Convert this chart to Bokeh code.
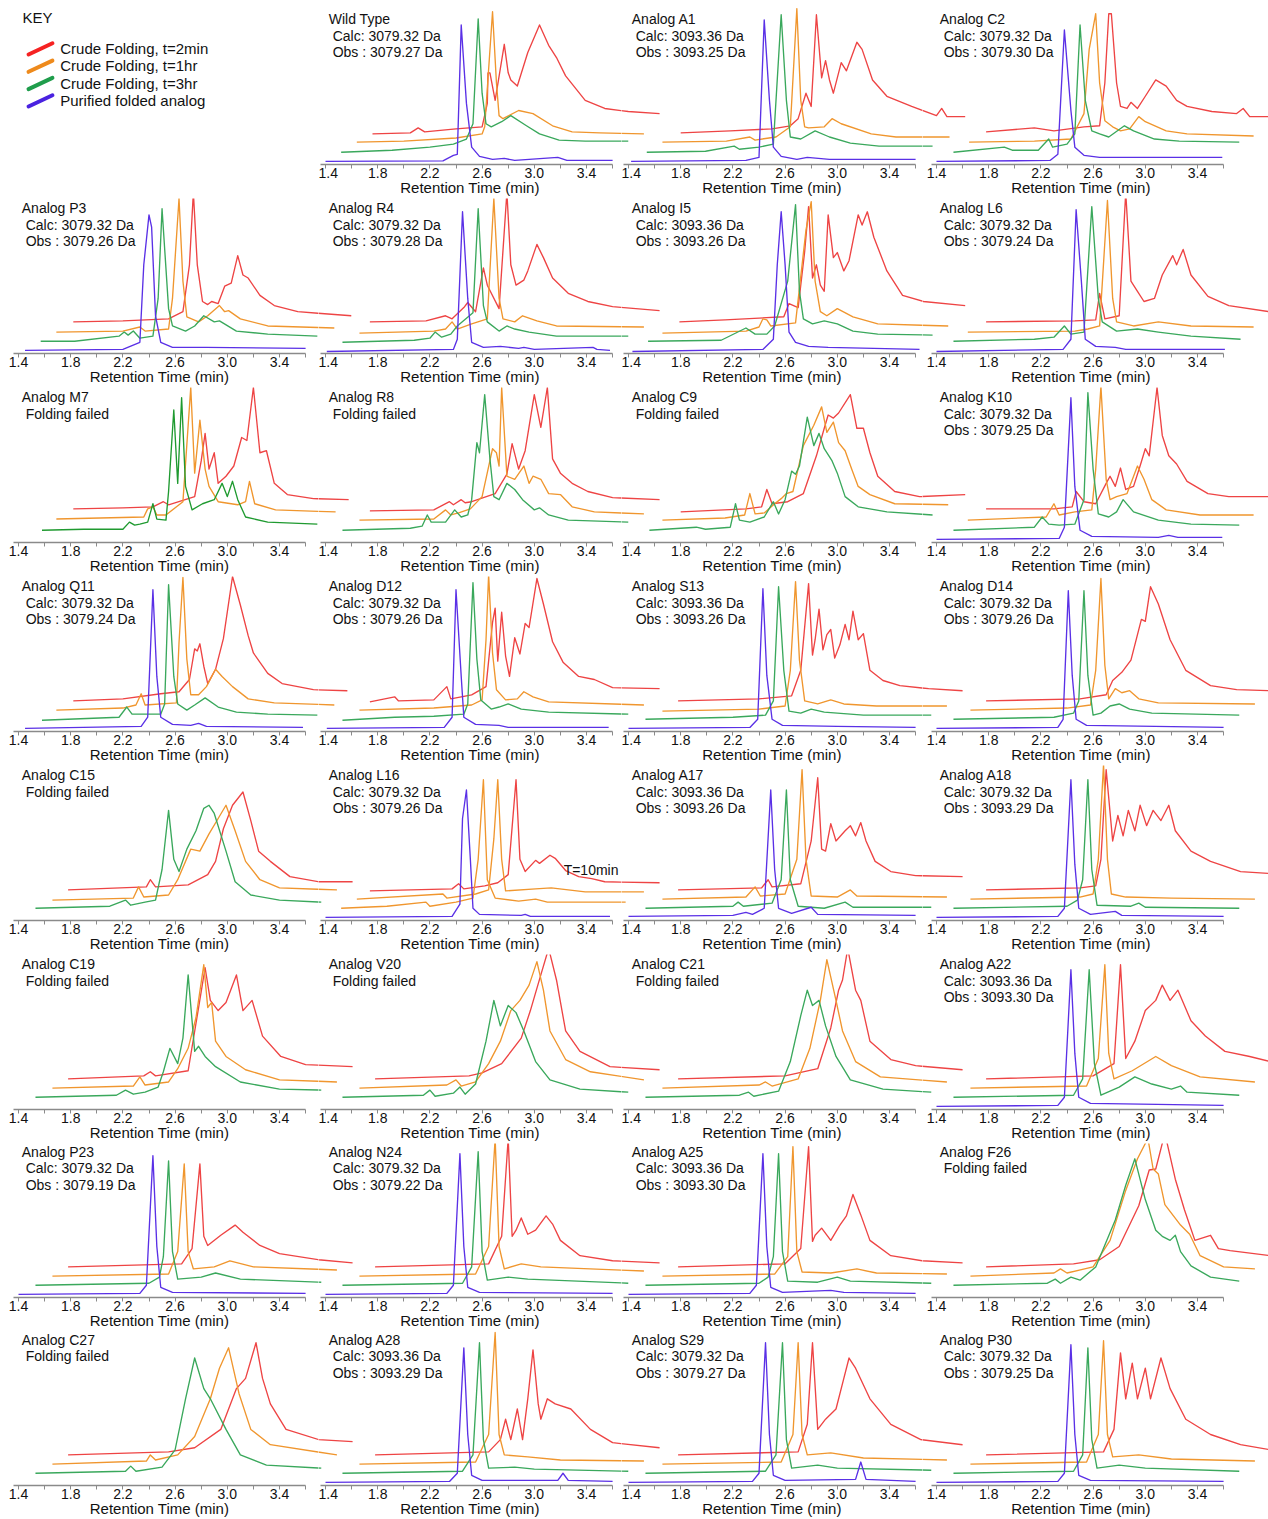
from bokeh.plotting import figure
from bokeh.layouts import column, row
from bokeh.models import Range1d, FixedTicker
from bokeh.embed import file_html
from bokeh.resources import INLINE
from bokeh.core.properties import value

# ---------------- axis ticks ----------------
TICKS = [1.4, 1.8, 2.2, 2.6, 3.0, 3.4]
TICK_LABELS = ["1.4", "1.8", "2.2", "2.6", "3.0", "3.4"]
MINOR_TICKS = [1.6, 2.0, 2.4, 2.8, 3.2, 3.6]
AXIS_BOUNDS = (1.36, 3.6)
AXIS_TITLE = "Retention Time (min)"

# ---------------- legend ----------------
KEY_LABELS = ["Crude Folding, t=2min", "Crude Folding, t=1hr", "Crude Folding, t=3hr", "Purified folded analog"]

# ---------------- panel texts ----------------
NAMES = ["Wild Type", "Analog A1", "Analog C2", "Analog P3", "Analog R4", "Analog I5", "Analog L6",
         "Analog M7", "Analog R8", "Analog C9", "Analog K10", "Analog Q11", "Analog D12", "Analog S13",
         "Analog D14", "Analog C15", "Analog L16", "Analog A17", "Analog A18", "Analog C19", "Analog V20",
         "Analog C21", "Analog A22", "Analog P23", "Analog N24", "Analog A25", "Analog F26", "Analog C27",
         "Analog A28", "Analog S29", "Analog P30"]
CALC = ["3079.32", "3093.36", "3079.32", "3079.32", "3079.32", "3093.36", "3079.32",
        None, None, None, "3079.32", "3079.32", "3079.32", "3093.36",
        "3079.32", None, "3079.32", "3093.36", "3079.32", None, None,
        None, "3093.36", "3079.32", "3079.32", "3093.36", None, None,
        "3093.36", "3079.32", "3079.32"]
OBS = ["3079.27", "3093.25", "3079.30", "3079.26", "3079.28", "3093.26", "3079.24",
       None, None, None, "3079.25", "3079.24", "3079.26", "3093.26",
       "3079.26", None, "3079.26", "3093.26", "3093.29", None, None,
       None, "3093.30", "3079.19", "3079.22", "3093.30", None, None,
       "3093.29", "3079.27", "3079.25"]

# ---------------- traces: (retention time, signal) as displayed ----------------
WT_r = [(1.76,30),(2.05,31),(2.11,36),(2.16,32),(2.40,35),(2.60,37),(2.64,60),(2.645,90),(2.66,90),(2.70,63),(2.77,118),(2.80,90),(2.82,83),(2.87,77),(2.95,110),(3.04,137),(3.11,117),(3.17,105),(3.24,87),(3.39,63),(3.54,55),(3.72,52),(3.96,50)]
WT_o = [(1.64,22),(2.00,23),(2.40,26),(2.60,30),(2.62,37),(2.68,150),(2.71,80),(2.73,48),(2.76,45),(2.88,53),(2.99,50),(3.14,38),(3.29,32),(3.50,31),(3.84,30)]
WT_g = [(1.52,12),(1.91,14),(2.20,17),(2.38,20),(2.48,25),(2.53,40),(2.57,143),(2.60,70),(2.63,40),(2.67,37),(2.75,42),(2.82,48),(2.94,38),(3.04,30),(3.19,24),(3.39,23),(3.72,23)]
WT_p = [(1.40,3),(2.30,3.5),(2.38,9),(2.41,10),(2.44,137),(2.48,60),(2.52,17),(2.58,8),(2.68,5),(2.77,6),(2.85,4),(3.18,7),(3.25,4),(3.60,4)]

A1_r = [(1.80,31),(2.18,33),(2.50,35),(2.64,38),(2.70,45),(2.76,70),(2.80,57),(2.84,147),(2.88,85),(2.91,102),(2.94,83),(2.97,70),(3.03,100),(3.07,92),(3.15,120),(3.19,113),(3.27,83),(3.38,67),(3.57,57),(3.76,48),(3.80,55),(3.84,47),(3.98,47)]
A1_o = [(1.66,22),(2.15,23),(2.33,27),(2.37,24),(2.53,27),(2.64,37),(2.69,153),(2.72,63),(2.75,37),(2.78,36),(2.90,37),(2.96,45),(3.03,40),(3.26,30),(3.45,27),(3.86,27)]
A1_g = [(1.54,12),(1.99,13),(2.21,18),(2.25,15),(2.40,17),(2.51,20),(2.57,147),(2.61,63),(2.64,27),(2.72,25),(2.83,33),(2.94,27),(3.10,21),(3.32,18),(3.73,18)]
A1_p = [(1.42,3),(2.30,4),(2.40,7),(2.44,142),(2.48,63),(2.51,17),(2.57,8),(2.69,5),(2.77,7),(2.94,5),(3.60,5)]

C2_r = [(1.78,32),(2.15,36),(2.30,33),(2.53,37),(2.65,38),(2.69,80),(2.72,148),(2.74,148),(2.78,80),(2.81,57),(2.86,55),(2.89,61),(2.94,55),(3.00,67),(3.08,83),(3.16,77),(3.24,63),(3.32,57),(3.51,52),(3.70,50),(3.75,55),(3.80,47),(3.95,47)]
C2_o = [(1.65,22),(2.15,23),(2.43,25),(2.53,50),(2.57,113),(2.62,148),(2.65,80),(2.69,43),(2.75,37),(2.81,33),(2.88,35),(2.95,47),(3.00,42),(3.16,33),(3.32,30),(3.83,28)]
C2_g = [(1.53,12),(1.92,17),(1.98,14),(2.18,14),(2.26,25),(2.29,17),(2.40,20),(2.46,30),(2.50,137),(2.54,63),(2.59,33),(2.65,30),(2.72,27),(2.84,38),(2.91,33),(3.07,25),(3.26,23),(3.72,22)]
C2_p = [(1.40,3),(2.27,4),(2.33,10),(2.38,132),(2.43,53),(2.46,17),(2.53,9),(2.65,7),(2.97,7),(3.59,7)]

P3_r = [(1.82,31),(2.20,32),(2.55,34),(2.66,41),(2.71,87),(2.74,158),(2.77,87),(2.81,51),(2.85,48),(2.88,51),(2.93,49),(2.98,66),(3.03,69),(3.08,96),(3.12,77),(3.16,74),(3.25,57),(3.36,47),(3.54,41),(3.95,37)]
P3_o = [(1.69,21),(2.20,22),(2.33,26),(2.37,22),(2.55,24),(2.58,54),(2.63,152),(2.66,71),(2.69,36),(2.78,31),(2.85,37),(2.94,47),(2.98,41),(3.01,42),(3.10,34),(3.31,27),(3.82,25)]
P3_g = [(1.57,12),(1.83,12),(2.17,17),(2.21,21),(2.24,18),(2.28,22),(2.33,15),(2.43,17),(2.47,54),(2.50,142),(2.55,44),(2.58,27),(2.68,22),(2.75,27),(2.82,37),(2.90,31),(2.94,32),(3.07,22),(3.31,19),(3.69,17)]
P3_p = [(1.45,3),(2.20,4),(2.33,11),(2.36,87),(2.40,136),(2.42,124),(2.45,37),(2.49,11),(2.58,6),(2.84,6),(3.60,5)]

R4_r = [(1.74,31),(2.17,32),(2.32,37),(2.37,34),(2.46,45),(2.49,50),(2.55,41),(2.61,84),(2.64,67),(2.73,44),(2.79,158),(2.82,87),(2.86,67),(2.92,72),(2.95,81),(3.02,107),(3.07,94),(3.14,74),(3.26,59),(3.41,51),(3.60,46),(3.96,42)]
R4_o = [(1.66,20),(2.23,22),(2.32,24),(2.37,31),(2.41,24),(2.52,29),(2.64,34),(2.69,152),(2.73,54),(2.76,34),(2.85,31),(2.91,37),(3.02,32),(3.17,27),(3.84,26)]
R4_g = [(1.53,11),(2.08,13),(2.20,15),(2.24,21),(2.29,16),(2.36,19),(2.41,27),(2.53,40),(2.57,142),(2.61,47),(2.64,31),(2.73,22),(2.79,27),(2.85,24),(2.96,21),(3.17,17),(3.72,17)]
R4_p = [(1.41,2),(2.38,4),(2.41,14),(2.45,139),(2.49,54),(2.52,11),(2.61,6),(2.74,7),(2.88,5),(2.92,6),(3.00,4),(3.45,6),(3.48,4),(3.58,3)]

I5_r = [(1.79,31),(2.14,33),(2.59,36),(2.63,49),(2.70,45),(2.75,100),(2.78,144),(2.81,74),(2.84,87),(2.87,67),(2.90,61),(2.93,136),(2.97,94),(3.00,99),(3.05,81),(3.09,91),(3.16,136),(3.19,126),(3.23,139),(3.28,114),(3.38,81),(3.50,57),(3.66,51),(3.98,47)]
I5_o = [(1.66,20),(2.30,22),(2.40,26),(2.43,34),(2.46,33),(2.49,27),(2.68,30),(2.76,121),(2.80,149),(2.83,71),(2.87,41),(2.92,37),(3.00,44),(3.12,36),(3.31,29),(3.85,27)]
I5_g = [(1.55,12),(2.11,13),(2.30,25),(2.37,19),(2.46,19),(2.52,27),(2.62,71),(2.68,146),(2.71,61),(2.74,34),(2.81,29),(2.90,32),(3.00,29),(3.12,22),(3.31,19),(3.73,18)]
I5_p = [(1.43,2),(2.43,4),(2.51,14),(2.54,87),(2.57,139),(2.60,87),(2.63,21),(2.68,11),(2.78,7),(2.93,6),(3.63,4)]

L6_r = [(1.78,31),(2.46,32),(2.62,33),(2.65,59),(2.69,34),(2.80,37),(2.85,158),(2.89,71),(2.94,61),(2.99,51),(3.07,54),(3.13,77),(3.21,96),(3.24,87),(3.29,102),(3.35,77),(3.48,56),(3.64,47),(3.95,41)]
L6_o = [(1.64,21),(2.46,22),(2.56,24),(2.65,27),(2.71,150),(2.75,54),(2.78,31),(2.91,27),(3.10,31),(3.35,27),(3.83,26)]
L6_g = [(1.53,12),(2.15,14),(2.30,16),(2.38,27),(2.43,19),(2.53,21),(2.59,144),(2.64,54),(2.67,31),(2.78,22),(2.94,24),(3.10,21),(3.35,17),(3.73,14)]
L6_p = [(1.40,2),(2.37,4),(2.43,14),(2.47,141),(2.51,71),(2.54,14),(2.62,7),(2.77,6),(2.85,4),(3.61,4)]

M7_r = [(1.82,33),(2.20,34),(2.43,35),(2.51,40),(2.55,37),(2.75,45),(2.80,80),(2.83,107),(2.86,72),(2.90,88),(2.93,58),(2.99,65),(3.05,75),(3.11,103),(3.15,100),(3.20,152),(3.25,88),(3.30,90),(3.36,58),(3.46,47),(3.66,43),(3.93,42)]
M7_o = [(1.69,23),(2.36,25),(2.39,33),(2.43,35),(2.46,27),(2.53,27),(2.66,40),(2.72,152),(2.75,68),(2.79,120),(2.83,72),(2.86,55),(2.93,40),(3.08,37),(3.14,40),(3.17,60),(3.21,38),(3.37,32),(3.83,30)]
M7_g = [(1.58,12),(1.90,13),(2.20,13),(2.25,20),(2.29,17),(2.33,18),(2.39,20),(2.43,38),(2.46,23),(2.53,22),(2.55,50),(2.59,130),(2.62,58),(2.65,142),(2.68,55),(2.73,32),(2.81,38),(2.90,42),(2.96,58),(3.00,45),(3.04,60),(3.08,42),(3.14,25),(3.31,20),(3.69,18)]

R8_r = [(1.74,31),(2.23,32),(2.35,40),(2.38,37),(2.44,42),(2.47,39),(2.52,40),(2.70,48),(2.79,67),(2.83,97),(2.88,72),(2.93,90),(3.00,145),(3.05,113),(3.10,152),(3.14,82),(3.20,68),(3.29,58),(3.41,50),(3.60,44),(3.96,42)]
R8_o = [(1.66,22),(2.23,23),(2.32,32),(2.36,27),(2.42,29),(2.51,33),(2.60,45),(2.68,92),(2.71,88),(2.73,75),(2.75,152),(2.79,65),(2.85,62),(2.92,75),(2.96,58),(2.99,65),(3.05,62),(3.11,48),(3.20,47),(3.29,35),(3.46,30),(3.84,28)]
R8_g = [(1.53,12),(2.05,14),(2.14,16),(2.18,27),(2.21,20),(2.32,20),(2.39,32),(2.44,25),(2.49,27),(2.52,42),(2.56,98),(2.58,88),(2.62,145),(2.66,82),(2.69,45),(2.73,42),(2.79,58),(2.85,52),(2.91,42),(3.00,32),(3.04,34),(3.11,27),(3.26,22),(3.72,20)]

C9_r = [(1.80,30),(2.30,33),(2.42,35),(2.46,52),(2.50,38),(2.62,40),(2.74,48),(2.84,85),(2.90,112),(2.93,125),(2.97,122),(3.01,127),(3.10,145),(3.15,112),(3.20,112),(3.25,88),(3.31,65),(3.44,50),(3.63,45),(3.98,47)]
C9_o = [(1.66,22),(2.14,24),(2.29,27),(2.33,48),(2.37,28),(2.44,29),(2.52,38),(2.57,43),(2.61,48),(2.66,50),(2.74,95),(2.82,115),(2.88,133),(2.92,108),(2.97,118),(3.01,98),(3.06,90),(3.11,72),(3.16,55),(3.25,47),(3.44,38),(3.85,37)]
C9_g = [(1.56,12),(1.92,15),(1.99,13),(2.18,15),(2.22,38),(2.25,22),(2.33,20),(2.44,25),(2.51,40),(2.55,28),(2.60,42),(2.65,70),(2.68,67),(2.71,75),(2.77,123),(2.82,95),(2.86,107),(2.90,92),(2.96,80),(3.00,68),(3.06,45),(3.16,35),(3.38,30),(3.73,27)]

K10_r = [(1.78,33),(2.30,33),(2.44,35),(2.47,50),(2.53,40),(2.62,38),(2.70,58),(2.73,65),(2.77,55),(2.81,73),(2.85,52),(2.91,55),(2.96,75),(3.00,92),(3.03,85),(3.09,152),(3.13,105),(3.18,85),(3.24,77),(3.32,60),(3.48,48),(3.64,45),(3.95,45)]
K10_o = [(1.64,22),(2.24,25),(2.30,38),(2.34,27),(2.46,30),(2.59,32),(2.62,72),(2.66,153),(2.70,62),(2.73,42),(2.78,45),(2.86,48),(2.94,75),(2.99,62),(3.05,42),(3.16,32),(3.42,27),(3.83,27)]
K10_g = [(1.53,12),(2.15,15),(2.21,25),(2.26,18),(2.34,17),(2.46,18),(2.53,42),(2.56,147),(2.60,72),(2.64,28),(2.72,25),(2.78,30),(2.83,42),(2.91,30),(3.10,22),(3.35,18),(3.72,17)]
K10_p = [(1.40,3),(2.34,4),(2.38,15),(2.43,142),(2.46,55),(2.50,12),(2.59,6),(3.10,5),(3.18,7),(3.25,5),(3.59,5)]

Q11_r = [(1.82,30),(2.20,32),(2.49,37),(2.63,39),(2.71,51),(2.75,81),(2.77,79),(2.79,86),(2.82,64),(2.85,47),(2.91,61),(2.97,91),(3.04,152),(3.10,124),(3.16,94),(3.20,77),(3.31,57),(3.42,47),(3.66,41),(3.92,40)]
Q11_o = [(1.69,21),(2.20,23),(2.30,26),(2.34,37),(2.37,26),(2.61,28),(2.63,87),(2.66,151),(2.69,71),(2.72,36),(2.78,36),(2.84,44),(2.91,61),(2.96,54),(3.04,44),(3.16,32),(3.36,28),(3.82,26)]
Q11_g = [(1.58,11),(2.17,14),(2.23,24),(2.27,17),(2.49,17),(2.52,27),(2.55,144),(2.59,54),(2.62,27),(2.69,21),(2.75,26),(2.83,33),(2.93,24),(3.07,19),(3.31,17),(3.69,16)]
Q11_p = [(1.45,3),(2.34,5),(2.39,14),(2.43,139),(2.46,54),(2.49,14),(2.58,7),(2.72,6),(2.78,8),(2.84,5),(3.58,4)]

D12_r = [(1.74,29),(1.93,34),(1.96,30),(2.23,31),(2.33,44),(2.36,32),(2.52,36),(2.63,44),(2.68,107),(2.70,121),(2.72,69),(2.75,117),(2.78,74),(2.81,54),(2.85,92),(2.89,76),(2.93,106),(2.96,102),(3.02,150),(3.07,125),(3.14,88),(3.22,68),(3.34,54),(3.46,51),(3.60,43),(3.96,42)]
D12_o = [(1.66,21),(2.23,23),(2.52,26),(2.60,31),(2.63,90),(2.65,154),(2.68,77),(2.71,41),(2.78,31),(2.87,32),(2.92,39),(2.99,34),(3.11,29),(3.84,26)]
D12_g = [(1.53,11),(1.93,14),(2.23,15),(2.46,17),(2.49,27),(2.53,146),(2.56,71),(2.59,31),(2.67,22),(2.73,24),(2.80,27),(2.90,22),(3.11,19),(3.72,17)]
D12_p = [(1.41,3),(2.31,4),(2.37,14),(2.40,139),(2.44,54),(2.46,14),(2.55,7),(2.73,6),(2.80,4),(3.57,4)]

S13_r = [(1.78,30),(2.40,32),(2.65,35),(2.72,60),(2.78,145),(2.81,75),(2.83,90),(2.86,120),(2.89,80),(2.92,95),(2.95,100),(2.98,72),(3.02,85),(3.06,105),(3.09,90),(3.12,118),(3.16,90),(3.20,96),(3.25,60),(3.35,50),(3.48,45),(3.70,42),(3.96,40)]
S13_o = [(1.66,20),(2.40,22),(2.60,25),(2.64,60),(2.68,147),(2.71,70),(2.75,30),(2.85,27),(2.95,31),(3.05,27),(3.30,25),(3.84,25)]
S13_g = [(1.53,12),(2.20,14),(2.45,16),(2.51,30),(2.55,142),(2.59,60),(2.63,20),(2.72,18),(2.80,22),(2.90,19),(3.20,16),(3.72,16)]
S13_p = [(1.40,3),(2.33,4),(2.39,12),(2.43,140),(2.46,55),(2.50,12),(2.58,6),(3.00,5),(3.60,4)]

D14_r = [(1.78,30),(2.50,32),(2.70,36),(2.75,50),(2.82,58),(2.89,70),(2.97,110),(3.00,108),(3.04,142),(3.10,125),(3.19,90),(3.31,60),(3.50,45),(3.70,41),(3.96,40)]
D14_o = [(1.66,21),(2.40,23),(2.58,26),(2.62,60),(2.66,150),(2.69,65),(2.72,32),(2.77,42),(2.82,38),(2.88,40),(2.95,32),(3.10,28),(3.84,27)]
D14_g = [(1.53,12),(2.30,14),(2.45,18),(2.49,30),(2.53,138),(2.56,55),(2.60,16),(2.66,18),(2.73,25),(2.80,27),(2.88,22),(3.05,18),(3.72,16)]
D14_p = [(1.40,3),(2.33,4),(2.37,12),(2.41,138),(2.44,55),(2.47,12),(2.55,6),(3.60,4)]

C15_r = [(1.78,30),(2.38,33),(2.41,40),(2.45,33),(2.70,35),(2.85,45),(2.91,58),(2.97,90),(3.04,113),(3.12,126),(3.18,98),(3.24,68),(3.33,58),(3.48,43),(3.70,38),(3.96,38)]
C15_o = [(1.66,20),(2.28,22),(2.32,33),(2.36,23),(2.55,25),(2.62,40),(2.72,70),(2.79,68),(2.86,85),(2.93,100),(2.99,113),(3.06,88),(3.14,58),(3.25,40),(3.40,32),(3.84,30)]
C15_g = [(1.53,12),(2.10,14),(2.22,20),(2.26,15),(2.37,18),(2.45,20),(2.50,50),(2.55,108),(2.59,60),(2.63,48),(2.69,70),(2.76,88),(2.82,110),(2.86,113),(2.90,105),(2.99,68),(3.06,38),(3.18,25),(3.40,20),(3.72,18)]

L16_r = [(1.74,29),(2.37,31),(2.42,36),(2.46,31),(2.62,34),(2.72,37),(2.80,45),(2.86,138),(2.89,60),(2.93,48),(3.01,59),(3.04,56),(3.12,64),(3.16,61),(3.24,49),(3.34,43),(3.44,41),(3.54,38),(3.96,37)]
L16_o = [(1.64,21),(2.30,26),(2.33,22),(2.55,26),(2.65,30),(2.69,80),(2.72,138),(2.75,60),(2.78,29),(3.01,31),(3.13,32),(3.39,28),(3.84,28)]
L16_g = [(1.52,12),(1.87,14),(2.17,18),(2.20,14),(2.40,18),(2.53,22),(2.57,60),(2.61,138),(2.64,40),(2.70,22),(2.88,19),(3.01,21),(3.10,18),(3.70,18)]
L16_p = [(1.40,3),(2.37,4),(2.43,16),(2.45,100),(2.48,128),(2.51,60),(2.53,12),(2.58,6),(2.90,5),(2.93,6),(2.97,4),(3.58,4)]

A17_r = [(1.78,30),(2.42,32),(2.47,40),(2.50,33),(2.72,36),(2.80,78),(2.85,140),(2.88,70),(2.91,68),(2.95,95),(2.99,78),(3.06,88),(3.10,93),(3.14,83),(3.18,96),(3.22,78),(3.29,58),(3.41,48),(3.60,44),(3.96,43)]
A17_o = [(1.66,21),(2.30,23),(2.37,33),(2.41,24),(2.60,26),(2.69,60),(2.73,148),(2.76,60),(2.80,24),(3.00,23),(3.10,30),(3.15,24),(3.84,23)]
A17_g = [(1.53,12),(2.20,14),(2.24,18),(2.28,14),(2.50,17),(2.57,40),(2.61,128),(2.64,40),(2.70,14),(2.90,12),(3.06,18),(3.12,13),(3.72,13)]
A17_p = [(1.40,4),(2.20,5),(2.30,8),(2.35,6),(2.44,12),(2.49,128),(2.52,50),(2.55,12),(2.65,7),(2.80,13),(2.85,6),(3.60,5)]

A18_r = [(1.78,30),(2.50,32),(2.62,34),(2.66,60),(2.70,148),(2.75,78),(2.79,103),(2.83,83),(2.87,108),(2.92,88),(2.96,113),(3.01,93),(3.06,108),(3.12,98),(3.18,113),(3.23,88),(3.35,68),(3.50,58),(3.73,48),(3.96,46)]
A18_o = [(1.66,21),(2.50,23),(2.60,26),(2.64,60),(2.68,153),(2.71,60),(2.74,26),(2.85,23),(3.20,22),(3.84,21)]
A18_g = [(1.53,12),(2.40,14),(2.48,20),(2.52,40),(2.56,138),(2.59,50),(2.63,15),(2.89,14),(2.95,17),(3.00,13),(3.72,12)]
A18_p = [(1.40,3),(2.33,4),(2.38,12),(2.43,138),(2.46,55),(2.49,12),(2.58,6),(2.77,9),(2.82,5),(3.60,4)]

C19_r = [(1.78,30),(2.36,33),(2.41,37),(2.45,33),(2.70,38),(2.78,100),(2.83,139),(2.87,107),(2.93,97),(2.99,105),(3.07,132),(3.12,97),(3.19,107),(3.27,72),(3.41,52),(3.60,44),(3.96,42)]
C19_o = [(1.66,21),(2.28,23),(2.33,32),(2.37,24),(2.55,27),(2.62,40),(2.70,60),(2.76,90),(2.82,142),(2.85,100),(2.88,105),(2.91,67),(2.99,52),(3.14,39),(3.40,29),(3.84,27)]
C19_g = [(1.53,12),(2.15,14),(2.22,19),(2.28,15),(2.37,17),(2.47,22),(2.51,37),(2.56,60),(2.62,45),(2.66,70),(2.70,132),(2.75,57),(2.78,62),(2.83,52),(2.91,42),(3.10,27),(3.40,20),(3.72,19)]

V20_r = [(1.78,30),(2.50,33),(2.60,36),(2.75,45),(2.90,70),(2.97,97),(3.05,132),(3.11,158),(3.17,127),(3.24,77),(3.35,57),(3.58,42),(3.96,39)]
V20_o = [(1.66,21),(2.33,24),(2.40,29),(2.44,23),(2.55,27),(2.65,45),(2.74,67),(2.82,97),(2.89,107),(2.96,122),(3.02,145),(3.07,117),(3.12,77),(3.24,49),(3.43,37),(3.84,29)]
V20_g = [(1.53,12),(2.15,14),(2.20,19),(2.24,13),(2.38,16),(2.43,22),(2.47,15),(2.55,25),(2.63,67),(2.69,107),(2.74,82),(2.80,102),(2.86,95),(2.92,77),(3.01,47),(3.12,29),(3.35,20),(3.72,17)]

C21_r = [(1.78,30),(2.60,33),(2.85,40),(2.95,80),(3.01,117),(3.04,127),(3.08,158),(3.14,117),(3.18,107),(3.25,67),(3.41,49),(3.60,43),(3.96,39)]
C21_o = [(1.66,21),(2.40,24),(2.45,27),(2.50,23),(2.70,30),(2.79,60),(2.87,107),(2.92,147),(2.99,107),(3.04,77),(3.14,47),(3.33,32),(3.84,27)]
C21_g = [(1.53,12),(2.25,14),(2.32,17),(2.36,13),(2.55,18),(2.64,47),(2.72,92),(2.77,117),(2.81,102),(2.86,107),(2.91,82),(2.99,52),(3.10,29),(3.35,20),(3.72,17)]

A22_r = [(1.78,30),(2.60,33),(2.76,45),(2.81,142),(2.85,50),(2.92,67),(3.00,97),(3.08,107),(3.13,122),(3.19,107),(3.25,117),(3.35,87),(3.46,72),(3.61,57),(3.80,52),(3.96,47)]
A22_o = [(1.66,21),(2.55,23),(2.64,50),(2.69,142),(2.72,55),(2.76,30),(2.90,38),(3.08,52),(3.20,43),(3.42,32),(3.84,27)]
A22_g = [(1.53,12),(2.45,14),(2.52,30),(2.57,137),(2.61,45),(2.66,14),(2.80,22),(2.92,32),(3.05,25),(3.20,20),(3.27,23),(3.32,17),(3.72,14)]
A22_p = [(1.40,3),(2.33,4),(2.38,12),(2.43,137),(2.46,55),(2.49,12),(2.58,6),(3.60,4)]

P23_r = [(1.78,30),(2.65,33),(2.73,48),(2.79,131),(2.82,60),(2.85,51),(2.95,61),(3.06,71),(3.12,64),(3.25,51),(3.40,43),(3.70,37),(3.96,34)]
P23_o = [(1.66,21),(2.55,23),(2.62,45),(2.67,131),(2.70,45),(2.74,28),(2.90,30),(3.02,36),(3.20,30),(3.84,27)]
P23_g = [(1.53,12),(2.40,14),(2.48,20),(2.51,40),(2.55,134),(2.58,45),(2.62,18),(2.80,20),(2.91,24),(3.10,18),(3.72,15)]
P23_p = [(1.40,3),(2.33,4),(2.38,12),(2.43,139),(2.46,50),(2.49,10),(2.58,5),(3.60,4)]

N24_r = [(1.78,30),(2.65,33),(2.75,60),(2.80,156),(2.83,60),(2.86,66),(2.90,78),(2.95,62),(3.01,66),(3.09,80),(3.14,72),(3.20,56),(3.35,41),(3.60,36),(3.96,34)]
N24_o = [(1.66,21),(2.55,23),(2.65,50),(2.70,156),(2.73,50),(2.77,28),(2.90,33),(3.05,30),(3.84,26)]
N24_g = [(1.53,12),(2.45,14),(2.52,30),(2.57,143),(2.60,45),(2.64,17),(2.80,20),(2.95,18),(3.72,14)]
N24_p = [(1.40,3),(2.33,4),(2.38,12),(2.43,141),(2.46,50),(2.49,10),(2.58,5),(3.60,4)]

A25_r = [(1.78,30),(2.60,33),(2.72,48),(2.78,148),(2.81,55),(2.83,61),(2.88,68),(2.95,56),(3.02,71),(3.07,80),(3.12,101),(3.18,81),(3.25,56),(3.41,41),(3.65,36),(3.96,34)]
A25_o = [(1.66,21),(2.52,23),(2.62,40),(2.66,148),(2.69,45),(2.73,25),(2.95,24),(3.15,28),(3.30,24),(3.84,23)]
A25_g = [(1.53,12),(2.40,14),(2.47,20),(2.51,40),(2.55,141),(2.58,45),(2.62,16),(2.85,15),(3.00,20),(3.10,16),(3.72,14)]
A25_p = [(1.40,3),(2.33,4),(2.38,12),(2.43,141),(2.46,50),(2.49,10),(2.58,5),(2.95,7),(3.05,5),(3.60,4)]

F26_r = [(1.78,30),(2.45,33),(2.50,34),(2.65,37),(2.80,50),(2.95,90),(3.03,125),(3.08,126),(3.15,161),(3.23,116),(3.30,86),(3.38,56),(3.50,61),(3.56,48),(3.65,46),(3.96,41)]
F26_o = [(1.66,21),(2.30,24),(2.35,28),(2.40,24),(2.60,30),(2.73,56),(2.85,105),(2.94,136),(3.02,156),(3.06,126),(3.10,121),(3.15,91),(3.27,71),(3.34,62),(3.42,41),(3.60,30),(3.84,28)]
F26_g = [(1.53,12),(2.25,14),(2.31,18),(2.35,14),(2.43,20),(2.50,17),(2.62,30),(2.77,76),(2.85,110),(2.92,136),(3.00,96),(3.08,66),(3.13,60),(3.19,56),(3.23,61),(3.27,45),(3.35,31),(3.50,20),(3.72,16)]

C27_r = [(1.78,30),(2.55,33),(2.75,37),(2.95,55),(3.07,95),(3.14,105),(3.22,140),(3.27,105),(3.33,80),(3.45,55),(3.70,45),(3.96,43)]
C27_o = [(1.66,21),(2.38,24),(2.41,30),(2.45,25),(2.62,30),(2.75,48),(2.87,85),(2.94,115),(3.01,135),(3.09,90),(3.18,55),(3.33,40),(3.84,30)]
C27_g = [(1.53,12),(2.22,14),(2.26,19),(2.30,14),(2.50,18),(2.60,35),(2.68,85),(2.75,125),(2.82,95),(2.87,85),(2.99,55),(3.10,30),(3.30,20),(3.72,17)]

A28_r = [(1.78,30),(2.65,33),(2.74,45),(2.78,65),(2.82,45),(2.87,75),(2.91,45),(2.95,85),(2.99,133),(3.03,80),(3.05,65),(3.10,85),(3.16,80),(3.28,75),(3.43,55),(3.60,42),(3.96,37)]
A28_o = [(1.66,21),(2.55,23),(2.65,50),(2.70,150),(2.73,50),(2.77,30),(2.95,28),(3.20,25),(3.84,24)]
A28_g = [(1.53,12),(2.45,14),(2.53,30),(2.58,140),(2.61,45),(2.65,17),(2.85,18),(3.00,16),(3.72,14)]
A28_p = [(1.40,3),(2.35,4),(2.41,12),(2.46,135),(2.49,50),(2.52,10),(2.60,5),(3.18,5),(3.22,12),(3.26,5),(3.60,4)]

S29_r = [(1.78,30),(2.70,33),(2.77,60),(2.81,140),(2.85,55),(2.91,65),(2.99,75),(3.05,105),(3.09,125),(3.14,115),(3.25,85),(3.41,60),(3.64,45),(3.96,40)]
S29_o = [(1.66,21),(2.57,23),(2.66,50),(2.70,140),(2.73,50),(2.77,30),(2.95,32),(3.20,27),(3.84,25)]
S29_g = [(1.53,12),(2.45,14),(2.53,30),(2.58,140),(2.61,45),(2.65,17),(2.85,20),(3.00,17),(3.72,15)]
S29_p = [(1.40,3),(2.35,4),(2.40,12),(2.45,140),(2.48,50),(2.51,10),(2.60,5),(3.14,6),(3.18,23),(3.22,6),(3.60,4)]

P30_r = [(1.78,30),(2.68,33),(2.76,55),(2.81,130),(2.85,85),(2.90,120),(2.94,85),(3.00,115),(3.04,85),(3.12,125),(3.19,95),(3.31,65),(3.50,50),(3.73,40),(3.96,35)]
P30_o = [(1.66,21),(2.55,23),(2.64,50),(2.68,142),(2.71,50),(2.75,28),(2.95,30),(3.20,26),(3.84,24)]
P30_g = [(1.53,12),(2.45,14),(2.52,30),(2.56,135),(2.59,45),(2.63,17),(2.80,20),(3.00,17),(3.72,14)]
P30_p = [(1.40,3),(2.33,4),(2.38,12),(2.43,138),(2.46,50),(2.49,10),(2.58,5),(3.60,4)]

TRACES = [
    (WT_r, WT_o, WT_g, WT_p), (A1_r, A1_o, A1_g, A1_p), (C2_r, C2_o, C2_g, C2_p),
    (P3_r, P3_o, P3_g, P3_p), (R4_r, R4_o, R4_g, R4_p), (I5_r, I5_o, I5_g, I5_p), (L6_r, L6_o, L6_g, L6_p),
    (M7_r, M7_o, M7_g, None), (R8_r, R8_o, R8_g, None), (C9_r, C9_o, C9_g, None), (K10_r, K10_o, K10_g, K10_p),
    (Q11_r, Q11_o, Q11_g, Q11_p), (D12_r, D12_o, D12_g, D12_p), (S13_r, S13_o, S13_g, S13_p), (D14_r, D14_o, D14_g, D14_p),
    (C15_r, C15_o, C15_g, None), (L16_r, L16_o, L16_g, L16_p), (A17_r, A17_o, A17_g, A17_p), (A18_r, A18_o, A18_g, A18_p),
    (C19_r, C19_o, C19_g, None), (V20_r, V20_o, V20_g, None), (C21_r, C21_o, C21_g, None), (A22_r, A22_o, A22_g, A22_p),
    (P23_r, P23_o, P23_g, P23_p), (N24_r, N24_o, N24_g, N24_p), (A25_r, A25_o, A25_g, A25_p), (F26_r, F26_o, F26_g, None),
    (C27_r, C27_o, C27_g, None), (A28_r, A28_o, A28_g, A28_p), (S29_r, S29_o, S29_g, S29_p), (P30_r, P30_o, P30_g, P30_p),
]

# L16 was run at T=10min: its third trace is orange
NOTE_PANEL = 16
NOTE_TEXT = "T=10min"

# ---------------- styling / layout ----------------
RED, ORANGE, GREEN, PURPLE = "#ee4444", "#f0962e", "#3aa85c", "#5a30e6"
KEY_COLORS = ["#f52222", "#ee8a1c", "#1f9d4c", "#4a22e0"]
FONT = "Liberation Sans"
PX_PER_MIN = 130.5
COL_LEFT = [0, 318, 621, 922]          # figure left edges (px)
COL_W = [318, 303, 301, 346]
COL_X0 = [18, 325, 628, 936]           # where 1.4 min sits (px)
ROW_H = [198, 189, 189, 189, 189, 189, 188, 188]
AXIS_H = 37


def col_start(c):
    return 1.4 - (COL_X0[c] - COL_LEFT[c]) / PX_PER_MIN


def trace_colors(k):
    g = GREEN
    if k == 7:
        g = "#1f9a30"
    if k == NOTE_PANEL:
        g = ORANGE
    return [RED, ORANGE, g, PURPLE]


def draw_traces(p, k, shift):
    for tr, col in zip(TRACES[k], trace_colors(k)):
        if tr is None:
            continue
        xs = [a - shift for a, b in tr]
        ys = [b for a, b in tr]
        p.line(xs, ys, line_color=col, line_width=1.35, line_join="round")


def base_fig(c, h, hf, with_axis):
    s = col_start(c)
    kw = dict(width=COL_W[c], height=h, x_range=Range1d(s, s + COL_W[c] / PX_PER_MIN),
              y_range=Range1d(0, hf), output_backend="svg", toolbar_location=None,
              y_axis_location=None, min_border=0, outline_line_color=None,
              background_fill_color="white", border_fill_color="white")
    if not with_axis:
        kw["x_axis_location"] = None
    p = figure(**kw)
    p.grid.visible = False
    return p


def put_text(p, xs, ys, texts, size, align="left"):
    p.text(x=xs, y=ys, text=texts, text_font=value(FONT), text_font_size=size,
           text_baseline="middle", text_align=align, text_color="#111111")


rows = []
for r in range(8):
    figs = []
    for c in range(4):
        cell = r * 4 + c
        h = ROW_H[r]
        hf = h - AXIS_H
        if cell == 0:
            p = base_fig(c, h, hf, False)
            put_text(p, [1.43], [hf - 17], ["KEY"], "15px")
            ly = [hf - 47 - 17 * i for i in range(len(KEY_LABELS))]
            p.segment(x0=[1.477] * 4, y0=[v - 6 for v in ly], x1=[1.66] * 4, y1=[v + 5 for v in ly],
                      line_color=KEY_COLORS, line_width=4, line_cap="round")
            put_text(p, [1.72] * 4, ly, KEY_LABELS, "15px")
            figs.append(p)
            continue
        k = cell - 1
        p = base_fig(c, h, hf, True)
        ax = p.xaxis[0]
        ax.ticker = FixedTicker(ticks=TICKS, minor_ticks=MINOR_TICKS)
        ax.major_label_overrides = {t: s for t, s in zip(TICKS, TICK_LABELS)}
        ax.bounds = AXIS_BOUNDS
        ax.axis_line_color = "#8a8a8a"
        ax.axis_line_width = 1.5
        ax.major_tick_line_color = "#8a8a8a"
        ax.minor_tick_line_color = "#8a8a8a"
        ax.major_tick_in = 0
        ax.major_tick_out = 4
        ax.minor_tick_in = 0
        ax.minor_tick_out = 4
        ax.major_label_standoff = -1
        ax.major_label_text_font = FONT
        ax.major_label_text_font_size = "14px"
        ax.major_label_text_color = "#111111"
        # the last column is wider (its traces run to the page edge); pad so the title sits over the axis
        ax.axis_label = AXIS_TITLE + ("\u00a0" * 7 if c == 3 else "")
        ax.axis_label_standoff = -2
        ax.axis_label_text_font = FONT
        ax.axis_label_text_font_size = "15px"
        ax.axis_label_text_font_style = "normal"
        ax.axis_label_text_color = "#111111"
        # tails of the panel on the left that run into this one
        if c > 0 and k - 1 >= 0:
            draw_traces(p, k - 1, (COL_X0[c] - COL_X0[c - 1]) / PX_PER_MIN)
        draw_traces(p, k, 0.0)
        put_text(p, [1.425], [142.5], [NAMES[k]], "14px")
        if CALC[k] is None:
            sub = ["Folding failed"]
        else:
            sub = ["Calc: %s Da" % CALC[k], "Obs : %s Da" % OBS[k]]
        put_text(p, [1.455] * len(sub), [126.5 - 16 * i for i in range(len(sub))], sub, "14px")
        if k == NOTE_PANEL:
            right = col_start(c) + (COL_W[c] - 3) / PX_PER_MIN
            put_text(p, [right], [50], [NOTE_TEXT], "14px", align="right")
        figs.append(p)
    rows.append(row(*figs))

layout = column(*rows)
open("out.html", "w").write(file_html(layout, INLINE))
